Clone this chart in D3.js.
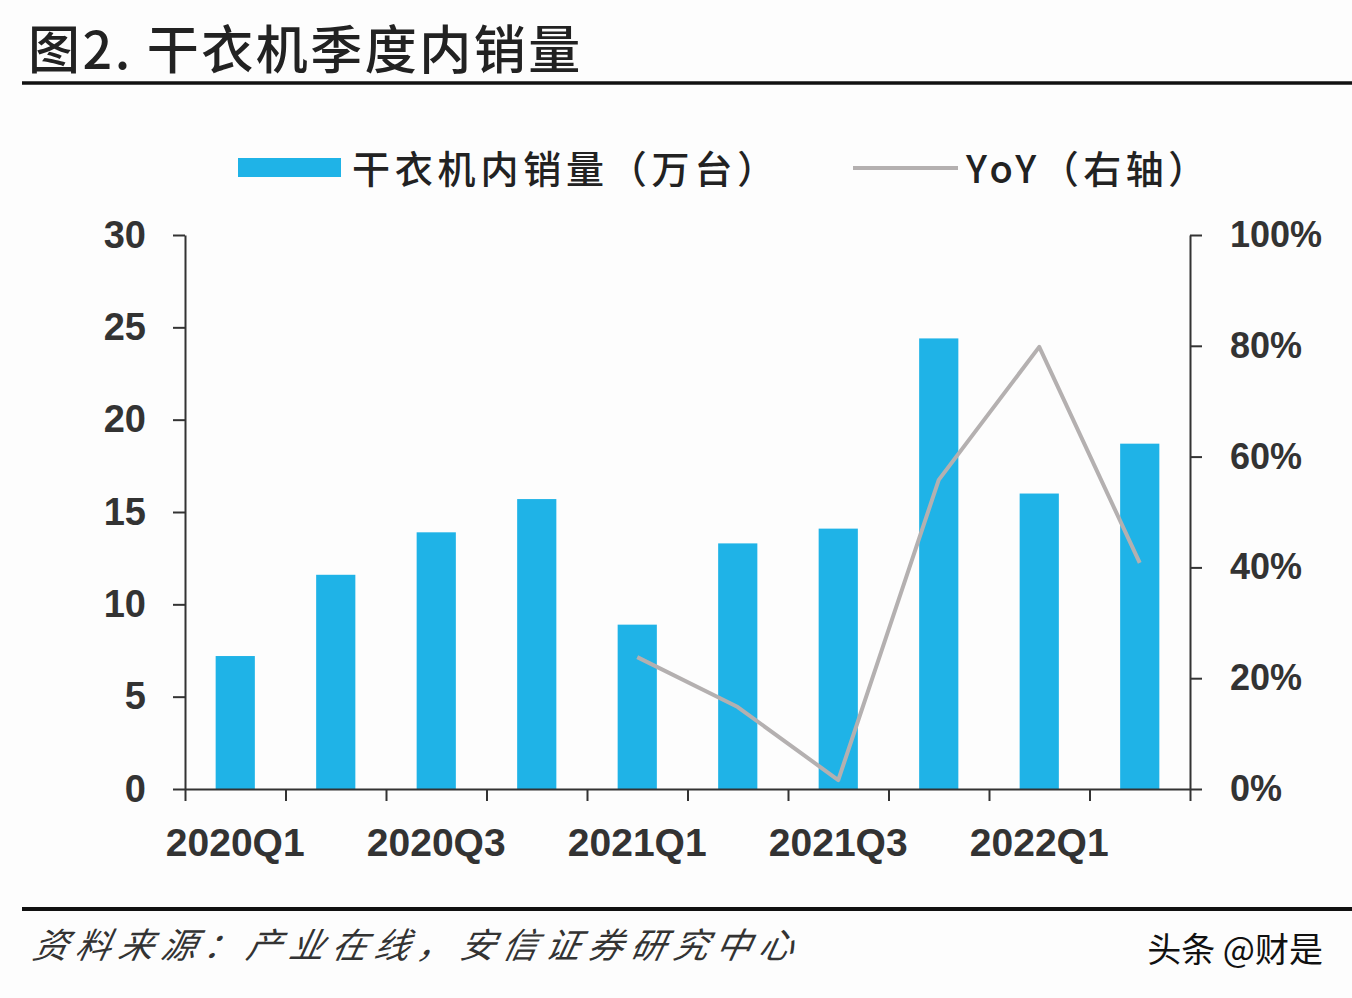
<!DOCTYPE html>
<html>
<head>
<meta charset="utf-8">
<script src="https://cdn.jsdelivr.net/npm/d3@7"></script>
<style>
  body { margin:0; background:#fdfdfd; }
  svg { display:block; }
</style>
</head>
<body>
<div id="chart"></div>
<script>
// data
var quarters = ["2020Q1","2020Q2","2020Q3","2020Q4","2021Q1","2021Q2","2021Q3","2021Q4","2022Q1","2022Q2"];
var sales = [7.2, 11.6, 13.9, 15.7, 8.9, 13.3, 14.1, 24.4, 16.0, 18.7];   // 万台
var yoy = [null, null, null, null, 0.238, 0.148, 0.016, 0.558, 0.798, 0.408];
var leftTicks = [0,5,10,15,20,25,30];
var rightTicks = [0,0.2,0.4,0.6,0.8,1.0];
var xLabels = ["2020Q1","2020Q3","2021Q1","2021Q3","2022Q1"];

var W = 1352, H = 998;
var L = 185, R = 1190, T = 235, B = 789;
var numFont = "'Liberation Sans', Arial, sans-serif";
var cjk = "'Noto Sans CJK SC', sans-serif";

var svg = d3.select("#chart").append("svg").attr("width",W).attr("height",H);
svg.append("rect").attr("width",W).attr("height",H).attr("fill","#fdfdfd");

// title
svg.append("text").attr("x",28).attr("y",69)
    .attr("font-family",cjk).attr("font-size",52).attr("font-weight",500)
    .attr("letter-spacing",2.5).attr("fill","#222").text("图2. 干衣机季度内销量");
svg.append("line").attr("x1",22).attr("x2",W).attr("y1",83).attr("y2",83)
    .attr("stroke","#111").attr("stroke-width",3.5);

var x = d3.scaleBand().domain(quarters).range([L,R]).paddingInner(0.61).paddingOuter(0.305);
var xEdge = d3.scaleLinear().domain([0,quarters.length]).range([L,R]);
var y = d3.scaleLinear().domain([0,30]).range([B,T]);
var yR = d3.scaleLinear().domain([0,1]).range([B,T]);

// bars
svg.selectAll("rect.bar").data(sales).enter().append("rect")
    .attr("class","bar")
    .attr("x",function(d,i){return x(quarters[i]);})
    .attr("y",function(d){return y(d);})
    .attr("width",x.bandwidth())
    .attr("height",function(d){return B-y(d);})
    .attr("fill","#1fb3e7");

// axes
var axL = svg.append("g").attr("transform","translate("+L+",0)")
    .call(d3.axisLeft(y).tickValues(leftTicks).tickSize(12).tickSizeOuter(0).tickPadding(27));
var axR = svg.append("g").attr("transform","translate("+R+",0)")
    .call(d3.axisRight(yR).tickValues(rightTicks).tickSize(12).tickSizeOuter(0).tickPadding(28)
        .tickFormat(function(d){return Math.round(d*100)+"%";}));
var axB = svg.append("g").attr("transform","translate(0,"+B+")")
    .call(d3.axisBottom(xEdge).tickValues(d3.range(quarters.length+1)).tickSize(12).tickSizeOuter(0).tickFormat(""));

[axL,axR,axB].forEach(function(g){
    g.selectAll("path,line").attr("stroke","#333").attr("stroke-width",2);
    g.selectAll("text").attr("font-family",numFont).attr("font-size",38)
        .attr("font-weight",700).attr("fill","#333");
});
axR.selectAll("text").attr("font-size",36);

svg.selectAll("text.xl").data(xLabels).enter().append("text")
    .attr("class","xl")
    .attr("x",function(d){return x(d)+x.bandwidth()/2;})
    .attr("y",856)
    .attr("text-anchor","middle")
    .attr("font-family",numFont).attr("font-size",39).attr("font-weight",700)
    .attr("fill","#333").text(function(d){return d;});

// YoY line
var line = d3.line()
    .defined(function(d){return d!=null;})
    .x(function(d,i){return x(quarters[i])+x.bandwidth()/2;})
    .y(function(d){return yR(d);});
svg.append("path").datum(yoy).attr("d",line)
    .attr("fill","none").attr("stroke","#b4b0b0").attr("stroke-width",4)
    .attr("stroke-linejoin","round");

// legend
svg.append("rect").attr("x",238).attr("y",158).attr("width",103).attr("height",19).attr("fill","#1fb3e7");
svg.append("text").attr("x",352).attr("y",183)
    .attr("font-family",cjk).attr("font-size",38).attr("font-weight",500)
    .attr("letter-spacing",4.8).attr("fill","#222").text("干衣机内销量（万台）");
svg.append("line").attr("x1",853).attr("x2",958).attr("y1",168).attr("y2",168)
    .attr("stroke","#b4b0b0").attr("stroke-width",4);
svg.append("text").attr("x",966).attr("y",183)
    .attr("font-family",cjk).attr("font-size",38).attr("font-weight",500)
    .attr("letter-spacing",4.5).attr("fill","#222").text("YoY（右轴）");

// footer
svg.append("line").attr("x1",22).attr("x2",W).attr("y1",909).attr("y2",909)
    .attr("stroke","#111").attr("stroke-width",4);
svg.append("text").attr("x",30).attr("y",958)
    .attr("font-family",cjk).attr("font-size",35).attr("font-style","italic")
    .attr("letter-spacing",7.7).attr("fill","#333")
    .attr("transform","skewX(-12) translate(205,0)")
    .text("资料来源：产业在线，安信证券研究中心");
svg.append("text").attr("x",1323).attr("y",962).attr("text-anchor","end")
    .attr("font-family",cjk).attr("font-size",34)
    .attr("fill","#111").text("头条 @财是");
</script>
</body>
</html>
